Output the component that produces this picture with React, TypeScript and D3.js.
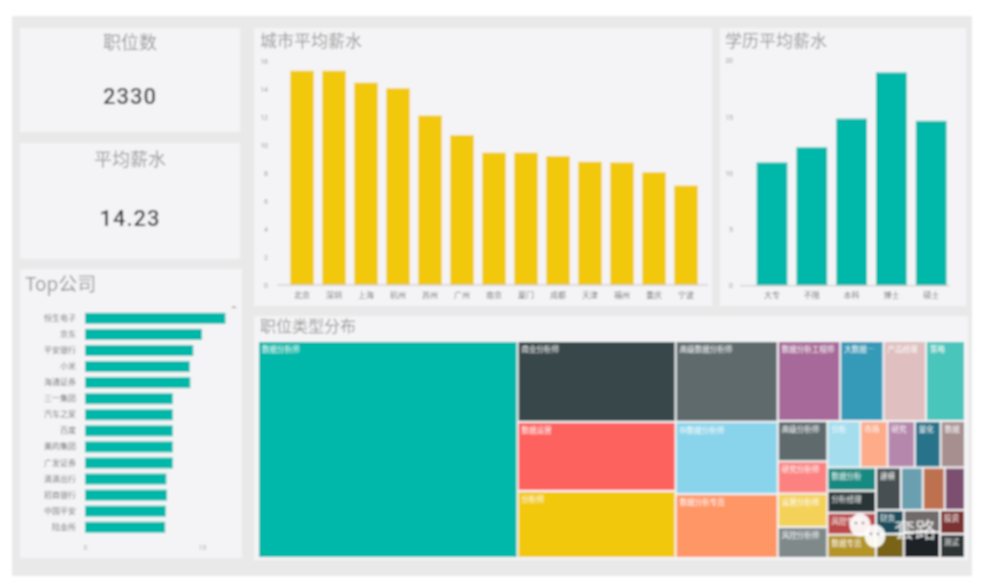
import React, { useEffect, useRef } from "react";
import * as d3 from "d3";

const WIDTH = 990;
const HEIGHT = 584;
const CJK = '"Noto Sans CJK SC", "Noto Sans", sans-serif';

const kpiTitles = ["职位数", "平均薪水"];
const kpiValues = ["2330", "14.23"];

const cityNames = ["北京", "深圳", "上海", "杭州", "苏州", "广州", "南京", "厦门", "成都", "天津", "福州", "重庆", "宁波"];
const citySalary = [15.3, 15.3, 14.45, 14.05, 12.1, 10.7, 9.45, 9.45, 9.2, 8.8, 8.75, 8.05, 7.1];
const cityTicks = [0, 2, 4, 6, 8, 10, 12, 14, 16];

const eduNames = ["大专", "不限", "本科", "博士", "硕士"];
const eduSalary = [10.95, 12.3, 14.85, 18.95, 14.65];
const eduTicks = [0, 5, 10, 15, 20];

const companyNames = ["恒生电子", "京东", "平安银行", "小米", "海通证券", "三一集团", "汽车之家", "百度", "美的集团", "广发证券", "滴滴出行", "招商银行", "中国平安", "陆金所"];
const companyCounts = [12, 10, 9.25, 8.95, 9, 7.5, 7.5, 7.5, 7.5, 7.5, 6.95, 7, 6.9, 6.85];
const companyTicks = [0, 10];

// treemap groups, each one names + job counts
const leadNames = ["数据分析师"];
const leadCounts = [846];
const secondNames = ["商业分析师", "数据运营", "分析师"];
const secondCounts = [192, 164, 159];
const thirdNames = ["高级数据分析师", "BI数据分析师", "数据分析专员"];
const thirdCounts = [124, 111, 98];
const topRowNames = ["数据分析工程师", "大数据分析师", "产品经理", "策略"];
const topRowCounts = [75, 52, 51, 47];
const leftColNames = ["高级分析师", "研究分析师", "运营分析师", "风控分析师"];
const leftColCounts = [30, 24, 25, 23];
const rowFiveNames = ["分析", "市场", "研究", "量化", "数据"];
const rowFiveCounts = [23, 19, 19, 18, 17];
const colFourNames = ["数据分析", "分析经理", "风控专员", "数据专员"];
const colFourCounts = [17, 16, 16, 17];
const rowFourNames = ["建模", "咨询", "挖掘", "统计"];
const rowFourCounts = [16, 14, 14, 13];
const pairOneNames = ["财务", "审计"];
const pairOneCounts = [10, 10];
const pairTwoNames = ["精算", "增长"];
const pairTwoCounts = [12, 14];
const pairThreeNames = ["投资", "测试"];
const pairThreeCounts = [9, 9];

// these cells show no label in the picture
const unlabelled = ["咨询", "挖掘", "统计", "审计", "精算", "增长"];

const treemapPalette = [
  "#01b8aa", "#374649", "#fd625e", "#f2c80f", "#5f6b6d", "#8ad4eb", "#fe9666", "#a66999",
  "#3599b8", "#dfbfbf", "#4ac5bb", "#5f6b6d", "#fb8281", "#f4d25a", "#7f898a", "#a4ddee",
  "#fdab89", "#b687ac", "#28738a", "#a78f8f", "#168980", "#293537", "#bb4a4a", "#b59525",
  "#475052", "#6a9fb0", "#bd7150", "#7b4f71", "#1b4d5c", "#796419", "#706b6b", "#1c2325",
  "#7d3231", "#2f3536",
];

const group = (dir: string, names: string[], counts: number[]) => ({
  dir,
  children: names.map((name, i) => ({ name, value: counts[i] })),
});
const split = (dir: string, ...children: any[]) => ({ dir, children });

const treeData = split(
  "h",
  group("v", leadNames, leadCounts),
  group("v", secondNames, secondCounts),
  group("v", thirdNames, thirdCounts),
  split(
    "v",
    group("h", topRowNames, topRowCounts),
    split(
      "h",
      group("v", leftColNames, leftColCounts),
      split(
        "v",
        group("h", rowFiveNames, rowFiveCounts),
        split(
          "h",
          group("v", colFourNames, colFourCounts),
          split(
            "v",
            group("h", rowFourNames, rowFourCounts),
            split(
              "h",
              group("v", pairOneNames, pairOneCounts),
              group("v", pairTwoNames, pairTwoCounts),
              group("v", pairThreeNames, pairThreeCounts)
            )
          )
        )
      )
    )
  )
);

function drawColumns(root: any, names: string[], values: number[], ticks: number[], opts: any) {
  const x = d3.scaleBand().domain(names).range(opts.xRange).paddingInner(opts.pad).paddingOuter(opts.pad / 2);
  const y = d3.scaleLinear().domain([0, ticks[ticks.length - 1]]).range(opts.yRange);

  root.selectAll(null)
    .data(values)
    .enter()
    .append("rect")
    .attr("x", (d: number, i: number) => x(names[i]))
    .attr("y", (d: number) => y(d))
    .attr("width", x.bandwidth())
    .attr("height", (d: number) => y(0) - y(d))
    .attr("fill", opts.color);

  const left = root.append("g")
    .attr("transform", `translate(${opts.axisX},0)`)
    .call(d3.axisLeft(y).tickValues(ticks).tickSize(0).tickPadding(0));
  left.select(".domain").remove();
  left.selectAll("text").attr("fill", "#999").style("font-size", "7px").style("font-family", "Roboto");

  const bottom = root.append("g")
    .attr("transform", `translate(0,${y(0)})`)
    .call(d3.axisBottom(x).tickSize(0).tickPadding(7));
  bottom.select(".domain").attr("stroke", "#c4c4c4").attr("d", `M${opts.baseline[0]},0H${opts.baseline[1]}`);
  bottom.selectAll("text").attr("fill", "#777").style("font-size", "8px").style("font-family", CJK);
}

function drawCompanies(root: any) {
  const x = d3.scaleLinear().domain([0, 10]).range([85, 202]);
  const y = d3.scaleBand().domain(companyNames).range([310.3, 535.3]).paddingInner(0.32).paddingOuter(0.16);

  root.selectAll(null)
    .data(companyCounts)
    .enter()
    .append("rect")
    .attr("x", x(0))
    .attr("y", (d: number, i: number) => y(companyNames[i]))
    .attr("width", (d: number) => x(d) - x(0))
    .attr("height", y.bandwidth())
    .attr("fill", "#01b8aa");

  const left = root.append("g")
    .attr("transform", `translate(${x(0) - 9},0)`)
    .call(d3.axisLeft(y).tickSize(0).tickPadding(0));
  left.select(".domain").remove();
  left.selectAll("text").attr("fill", "#777").style("font-size", "8px").style("font-family", CJK);

  const bottom = root.append("g")
    .attr("transform", "translate(0,543)")
    .call(d3.axisBottom(x).tickValues(companyTicks).tickSize(0).tickPadding(2));
  bottom.select(".domain").remove();
  bottom.selectAll("text").attr("fill", "#aaa").style("font-size", "7px").style("font-family", "Roboto");

  root.append("path").attr("d", "M231,308l3,-2l3,2z").attr("fill", "#999");
}

function drawTreemap(root: any) {
  const tile = (node: any, x0: number, y0: number, x1: number, y1: number) =>
    (node.data.dir === "v" ? d3.treemapSlice : d3.treemapDice)(node, x0, y0, x1, y1);

  const hierarchy = d3.hierarchy<any>(treeData).sum((d: any) => d.value || 0);
  const laidOut = d3.treemap<any>().tile(tile).size([705, 215]).paddingInner(2)(hierarchy);
  const leaves = laidOut.leaves();
  const color = d3.scaleOrdinal<number, string>().domain(d3.range(leaves.length)).range(treemapPalette);

  const g = root.append("g").attr("transform", "translate(259,342)");
  const cell = g.selectAll("g").data(leaves).enter().append("g")
    .attr("transform", (d: any) => `translate(${d.x0},${d.y0})`);

  cell.append("rect")
    .attr("width", (d: any) => d.x1 - d.x0)
    .attr("height", (d: any) => d.y1 - d.y0)
    .attr("fill", (d: any, i: number) => color(i));

  cell.filter((d: any) => !unlabelled.includes(d.data.name))
    .append("text")
    .attr("x", 3)
    .attr("y", 10)
    .attr("fill", "#fff")
    .style("font-size", "7.5px")
    .style("font-family", CJK)
    .each(function (this: any, d: any) {
      // shorten the label until it fits the cell
      const max = d.x1 - d.x0 - 5;
      const text = d3.select(this);
      let s: string = d.data.name;
      text.text(s);
      while (this.getComputedTextLength() > max && s.length > 1) {
        s = s.slice(0, -1);
        text.text(s + "…");
      }
    });
}

function drawWatermark(root: any) {
  const g = root.append("g");
  [[860, 525, 10.5, 11.5], [875, 536, 10.5, 11.5]].forEach(([cx, cy, rx, ry]) => {
    g.append("ellipse").attr("cx", cx).attr("cy", cy).attr("rx", rx).attr("ry", ry)
      .attr("fill", "#fff").attr("fill-opacity", 0.92);
    g.append("circle").attr("cx", cx - 4).attr("cy", cy - 2).attr("r", 1.3).attr("fill", "#888");
    g.append("circle").attr("cx", cx + 3).attr("cy", cy - 2).attr("r", 1.3).attr("fill", "#888");
  });
  g.append("text").attr("x", 894).attr("y", 537).text("套路")
    .attr("fill", "#fff").attr("fill-opacity", 0.85)
    .style("font-size", "21px").style("font-family", CJK);
}

export default function App() {
  const ref = useRef<SVGSVGElement>(null);

  useEffect(() => {
    const svg = d3.select(ref.current);
    svg.selectAll("*").remove();

    svg.append("defs").append("filter").attr("id", "soft")
      .attr("x", 0).attr("y", 0).attr("width", "100%").attr("height", "100%")
      .append("feGaussianBlur").attr("stdDeviation", 0.9);

    const root = svg.append("g").attr("filter", "url(#soft)");
    root.append("rect").attr("width", WIDTH).attr("height", HEIGHT).attr("fill", "#fff");
    root.append("rect").attr("x", 12).attr("y", 16).attr("width", 960).attr("height", 560).attr("fill", "#e9e9e9");

    const cards = [
      [20, 28, 220, 104], [20, 143, 220, 116], [20, 269, 222, 289],
      [254, 28, 458, 278], [720, 28, 246, 278], [254, 316, 714, 244],
    ];
    root.selectAll(null).data(cards).enter().append("rect")
      .attr("x", (d: number[]) => d[0]).attr("y", (d: number[]) => d[1])
      .attr("width", (d: number[]) => d[2]).attr("height", (d: number[]) => d[3])
      .attr("fill", "#f4f4f6");

    const title = (x: number, y: number, s: string, size: number, anchor = "start") =>
      root.append("text").attr("x", x).attr("y", y).attr("text-anchor", anchor).text(s)
        .attr("fill", "#9a9a9a").style("font-size", `${size}px`).style("font-family", CJK);

    title(130, 49, kpiTitles[0], 18, "middle");
    title(130, 166, kpiTitles[1], 18, "middle");
    title(25, 291, "Top公司", 19);
    title(260, 47, "城市平均薪水", 17);
    title(725, 47, "学历平均薪水", 17);
    title(260, 332, "职位类型分布", 16);

    [[130, 104, kpiValues[0]], [130, 226, kpiValues[1]]].forEach(([x, y, s]) => {
      root.append("text").attr("x", x).attr("y", y).attr("text-anchor", "middle").text(s)
        .attr("fill", "#333").attr("letter-spacing", 1)
        .style("font-size", "22px").style("font-weight", 500).style("font-family", "Roboto");
    });

    drawColumns(root, cityNames, citySalary, cityTicks, {
      xRange: [286, 702], yRange: [285, 61], pad: 0.265, color: "#f2c80f",
      axisX: 268, baseline: [277, 708],
    });
    drawColumns(root, eduNames, eduSalary, eduTicks, {
      xRange: [752.1, 951.1], yRange: [285.7, 60.7], pad: 0.229, color: "#01b8aa",
      axisX: 733, baseline: [740, 950],
    });
    drawCompanies(root);
    drawTreemap(root);
    drawWatermark(root);
  }, []);

  return (
    <svg
      ref={ref}
      width={WIDTH}
      height={HEIGHT}
      style={{ position: "absolute", left: 0, top: 0, display: "block" }}
    />
  );
}
